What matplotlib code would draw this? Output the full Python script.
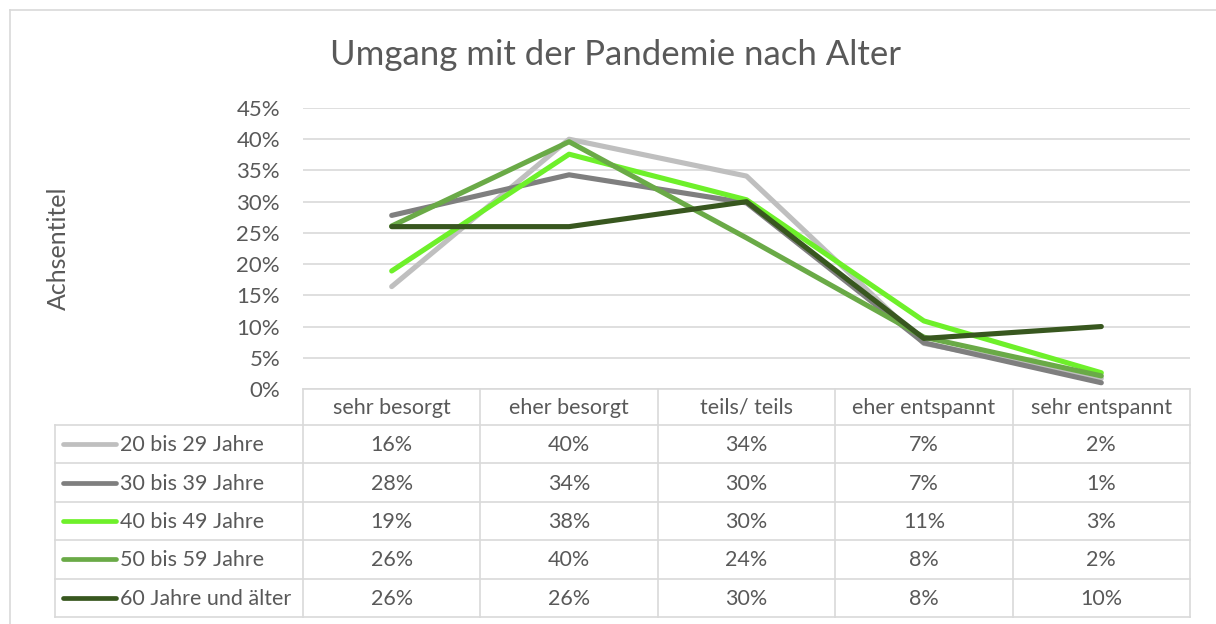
import numpy as np
import matplotlib.pyplot as plt
from matplotlib.lines import Line2D

plt.rcParams['font.family'] = ['Lato', 'DejaVu Sans']

# data
categories = ["sehr besorgt", "eher besorgt", "teils/ teils", "eher entspannt", "sehr entspannt"]
groups = ["20 bis 29 Jahre", "30 bis 39 Jahre", "40 bis 49 Jahre", "50 bis 59 Jahre", "60 Jahre und älter"]
age_20_29 = [0.164, 0.400, 0.341, 0.073, 0.017]
age_30_39 = [0.278, 0.343, 0.298, 0.074, 0.010]
age_40_49 = [0.189, 0.376, 0.303, 0.109, 0.026]
age_50_59 = [0.261, 0.396, 0.242, 0.083, 0.021]
age_60_plus = [0.260, 0.260, 0.300, 0.081, 0.100]
colors = ["#BFBFBF", "#7F7F7F", "#6EF02A", "#6AAA47", "#38571F"]
series = [age_20_29, age_30_39, age_40_49, age_50_59, age_60_plus]

W, H = 1216, 624
TXT = "#595959"
GRID = "#D9D9D9"
FS = 15.5

fig = plt.figure(figsize=(W / 100, H / 100), dpi=100)


def fx(x):
    return x / W


def fy(y):
    return 1 - y / H


def hline(x0, x1, y, **kw):
    fig.add_artist(Line2D([fx(x0), fx(x1)], [fy(y), fy(y)], transform=fig.transFigure, **kw))


def vline(x, y0, y1, **kw):
    fig.add_artist(Line2D([fx(x), fx(x)], [fy(y0), fy(y1)], transform=fig.transFigure, **kw))


# outer chart frame
hline(10, W, 10, color=GRID, lw=1.2)
vline(10, 10, H, color=GRID, lw=1.2)

# plot area
left, right, top, bottom = 303, 1190, 108, 389
ax = fig.add_axes([fx(left), fy(bottom), fx(right) - fx(left), fy(top) - fy(bottom)])
x = np.arange(len(categories))
for vals, c in zip(series, colors):
    ax.plot(x, vals, color=c, lw=3.7, solid_capstyle='round', solid_joinstyle='round', zorder=3)

ax.set_xlim(-0.5, len(categories) - 0.5)
ax.set_ylim(0, 0.45)
yt = np.arange(0, 0.46, 0.05)
ax.set_yticks(yt)
ax.set_yticklabels([f"{int(round(v * 100))}%" for v in yt], color=TXT, fontsize=16)
ax.tick_params(axis='y', length=0, pad=16.5)
ax.set_xticks([])
ax.grid(axis='y', color=GRID, lw=1.2)
ax.set_axisbelow(True)
for s in ax.spines.values():
    s.set_visible(False)

fig.text(fx(58), fy((top + bottom) / 2), "Achsentitel", rotation=90, ha='center', va='center',
         color=TXT, fontsize=18)
fig.text(fx(615), fy(55), "Umgang mit der Pandemie nach Alter", ha='center', va='center',
         color=TXT, fontsize=25)

# data table
col_w = (right - left) / len(categories)
row_top = 425
row_h = (617 - row_top) / len(groups)
leg_left = 55

hline(left, right, bottom, color=GRID, lw=1.2)
for i in range(len(groups) + 1):
    hline(leg_left, right, row_top + i * row_h, color=GRID, lw=1.2)
for j in range(len(categories) + 1):
    vline(left + j * col_w, bottom, 617, color=GRID, lw=1.2)
vline(leg_left, row_top, 617, color=GRID, lw=1.2)

for j, cat in enumerate(categories):
    fig.text(fx(left + (j + 0.5) * col_w), fy((bottom + row_top) / 2 + 1), cat,
             ha='center', va='center', color=TXT, fontsize=FS)

for i, (name, vals, c) in enumerate(zip(groups, series, colors)):
    yc = row_top + (i + 0.5) * row_h
    fig.add_artist(Line2D([fx(63), fx(116)], [fy(yc), fy(yc)], transform=fig.transFigure,
                          color=c, lw=3.4, solid_capstyle='round'))
    fig.text(fx(120), fy(yc + 1), name, ha='left', va='center', color=TXT, fontsize=FS)
    for j, v in enumerate(vals):
        fig.text(fx(left + (j + 0.5) * col_w), fy(yc + 1), f"{int(round(v * 100))}%",
                 ha='center', va='center', color=TXT, fontsize=FS)

fig.savefig("out.png", dpi=100, facecolor="white")
